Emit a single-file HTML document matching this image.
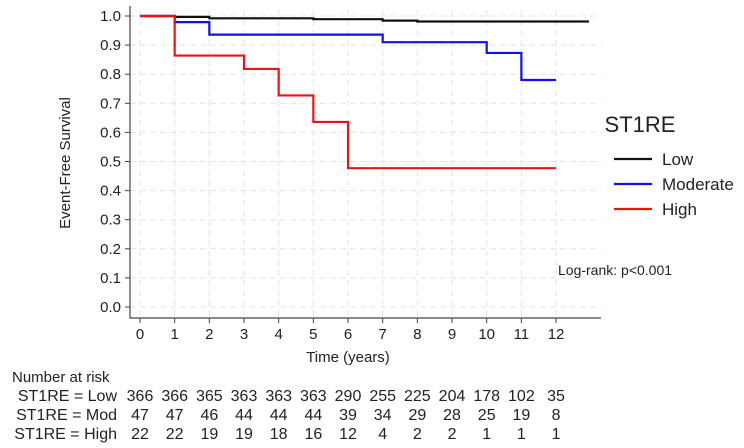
<!DOCTYPE html>
<html><head><meta charset="utf-8"><style>
body{margin:0;background:#fff;font-family:"Liberation Sans",sans-serif;}
svg text{font-family:"Liberation Sans",sans-serif;fill:#222;}
</style></head><body>
<svg id="c" width="744" height="443"></svg>
<script>
const years=[0,1,2,3,4,5,6,7,8,9,10,11,12];
const yTicks=[0,0.1,0.2,0.3,0.4,0.5,0.6,0.7,0.8,0.9,1.0];
const lowT=[0,1,2,5,7,8,12.95];
const lowS=[1,0.997,0.992,0.989,0.984,0.981,0.981];
const modT=[0,1,2,7,10,11,12];
const modS=[1,0.979,0.936,0.910,0.873,0.780,0.780];
const highT=[0,1,3,4,5,6,12];
const highS=[1,0.864,0.818,0.727,0.636,0.477,0.477];
const riskLow=[366,366,365,363,363,363,290,255,225,204,178,102,35];
const riskMod=[47,47,46,44,44,44,39,34,29,28,25,19,8];
const riskHigh=[22,22,19,19,18,16,12,4,2,2,1,1,1];
const svg=document.getElementById('c');const NS='http://www.w3.org/2000/svg';
const X=t=>140+t*34.67, Y=s=>307-s*291;
function el(tag,a,p){const e=document.createElementNS(NS,tag);for(const k in a)e.setAttribute(k,a[k]);(p||svg).appendChild(e);return e;}
function txt(x,y,s,size,anchor,name){const t=el('text',{x:x,y:y,'font-size':size,'text-anchor':anchor||'start'});t.textContent=s;

return t;}
years.forEach(t=>{const l=el('line',{x1:X(t),x2:X(t),y1:10,y2:318,stroke:'#e4e4e4','stroke-dasharray':'6,4'});

});
yTicks.forEach(s=>{const l=el('line',{x1:130,x2:601,y1:Y(s),y2:Y(s),stroke:'#e4e4e4','stroke-dasharray':'6,4'});

});
const ax=el('path',{d:'M130,6V318H601',fill:'none',stroke:'#444','stroke-width':1.2});


yTicks.forEach(s=>{el('line',{x1:125,x2:130,y1:Y(s),y2:Y(s),stroke:'#444'});txt(121,Y(s)+5,s.toFixed(1),15,'end','y-tick-label');});
years.forEach(t=>{el('line',{x1:X(t),x2:X(t),y1:318,y2:323,stroke:'#444'});txt(X(t),339,String(t),15,'middle','x-tick-label');});
txt(348,362,'Time (years)',15,'middle','x-axis-title');
const yt=txt(0,0,'Event-Free Survival',15,'middle','y-axis-title');yt.setAttribute('transform','translate(70,163) rotate(-90)');
function step(T,S,color,name){let d='M'+X(T[0])+','+Y(S[0]);for(let i=1;i<T.length;i++){d+='H'+X(T[i])+'V'+Y(S[i]);}
const p=el('path',{d:d,fill:'none',stroke:color,'stroke-width':2.2});

}
step(lowT,lowS,'#111','curve-low');step(modT,modS,'#1010ee','curve-moderate');step(highT,highS,'#ee1111','curve-high');
txt(640,132,'ST1RE',22,'middle','legend-title');
[['Low','#111'],['Moderate','#1010ee'],['High','#ee1111']].forEach((d,i)=>{const y=159+i*25;
const l=el('line',{x1:614,x2:652,y1:y,y2:y,stroke:d[1],'stroke-width':2.2});


txt(662,y+6,d[0],17,'start','legend-entry');});
txt(558,275,'Log-rank: p<0.001',14,'start','logrank-label');
txt(12,382,'Number at risk',15,'start','risk-table-title');
[['ST1RE = Low',riskLow],['ST1RE = Mod',riskMod],['ST1RE = High',riskHigh]].forEach((r,i)=>{const y=401+i*19;
txt(117,y,r[0],16,'end','risk-row-label');
r[1].forEach((v,j)=>txt(X(years[j]),y,String(v),16,'middle','risk-count'));});
</script>
</body></html>
